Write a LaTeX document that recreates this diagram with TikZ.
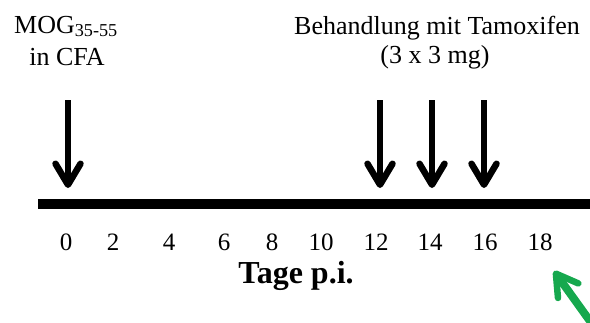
\documentclass[tikz,border=0pt]{standalone}
\usepackage{fontspec}
\setmainfont{Liberation Serif}
\usepackage{xcolor}
\usepackage{tikz}
\usetikzlibrary{arrows.meta}

\definecolor{pfeilgruen}{RGB}{22,168,78}

\tikzset{
	pfeil/.style={line width=6.5pt,-{Straight Barb[length=21pt,width=25pt,line width=6.5pt,round]}},
	zahl/.style={anchor=base,inner sep=0pt,font=\fontsize{25}{28}\selectfont},
	titel/.style={anchor=base,inner sep=0pt,font=\fontsize{26}{30}\selectfont}
}

\begin{document}
\begin{tikzpicture}[x=1pt,y=-1pt]
	\useasboundingbox (0,0) rectangle (590,322);
	\clip (0,0) rectangle (590,322);
	
	% Zeitachse
	\coordinate (achseA) at (38,203.5);
	\coordinate (achseB) at (600,203.5);
	\draw[line width=10pt] (achseA) -- (achseB);
	
	% Beschriftung oben
	\node[titel] (mog) at (66,33) {MOG\textsubscript{35-55}};
	\node[titel] (cfa) at (67,65) {in CFA};
	\node[titel] (beh) at (437,34) {Behandlung mit Tamoxifen};
	\node[titel] (dosis) at (435,63) {(3 x 3 mg)};
	
	% Pfeile
	\coordinate (p0a) at (68,100);
	\coordinate (p0b) at (68,188);
	\draw[pfeil] (p0a) -- (p0b);
	\coordinate (p12a) at (380,100);
	\coordinate (p12b) at (380,188);
	\draw[pfeil] (p12a) -- (p12b);
	\coordinate (p14a) at (432,100);
	\coordinate (p14b) at (432,188);
	\draw[pfeil] (p14a) -- (p14b);
	\coordinate (p16a) at (484,100);
	\coordinate (p16b) at (484,188);
	\draw[pfeil] (p16a) -- (p16b);
	
	% Tage
	\node[zahl] (t0) at (66,250) {0};
	\node[zahl] (t2) at (113,250) {2};
	\node[zahl] (t4) at (169,250) {4};
	\node[zahl] (t6) at (224,250) {6};
	\node[zahl] (t8) at (272,250) {8};
	\node[zahl] (t10) at (321,250) {10};
	\node[zahl] (t12) at (376,250) {12};
	\node[zahl] (t14) at (430,250) {14};
	\node[zahl] (t16) at (485,250) {16};
	\node[zahl] (t18) at (540,250) {18};
	\node[anchor=base,inner sep=0pt,font=\fontsize{32}{35}\selectfont\bfseries] (tage) at (296,283) {Tage p.i.};
	
	% gruener Pfeil
	\coordinate (gruenA) at (600,335);
	\coordinate (gruenB) at (554,271);
	\draw[pfeil,pfeilgruen,line width=8pt] (gruenA) -- (gruenB);
\end{tikzpicture}
\end{document}
